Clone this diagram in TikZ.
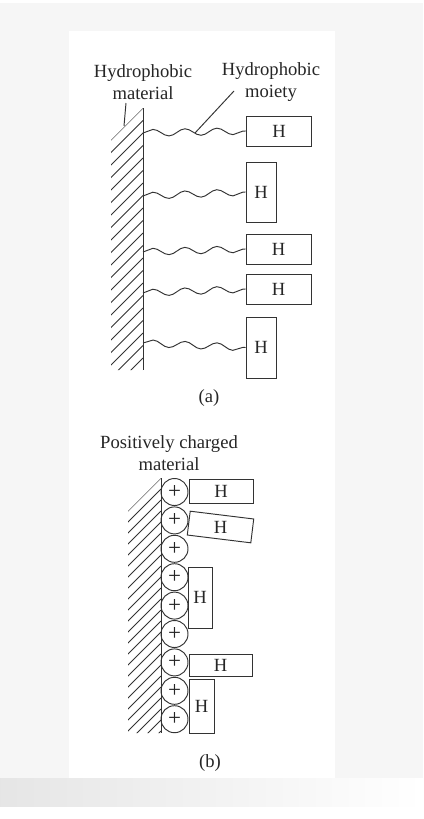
\documentclass[tikz,border=0pt]{standalone}
\usepackage{fontspec}
\setmainfont{Liberation Serif}
\usetikzlibrary{decorations.pathmorphing}

\begin{document}
\begin{tikzpicture}[x=1pt, y=-1pt, line width=0.95pt, draw=black!80,
	font=\fontsize{18.6}{21.5}\selectfont, text=black!85,
	hbox/.style={draw, inner sep=0pt, minimum width=#1},
	hbox/.default=65pt,
	wavy/.style={decorate, decoration={snake, segment length=32pt, amplitude=3.4pt}},
	charge/.style={draw, circle, inner sep=0pt, minimum size=27pt, font=\fontsize{23}{23}\selectfont},
	tag/.style={align=center, inner sep=0pt}]
\useasboundingbox (0,0) rectangle (423,819);
% page and card
\fill[gray!7] (0,3) rectangle (423,806);
\shade[left color=gray!20, right color=white] (0,778) rectangle (423,806);
\fill[white] (69,31) rectangle (335,778);

% (a) hydrophobic material
	\node[tag] (matA) at (143,82) {Hydrophobic\\material};
	\node[tag] (moiety) at (271,82) {Hydrophobic\\moiety};
	\begin{scope}
		\clip (143,108) -- (143,370) -- (111,370) -- (111,140) -- cycle;
		\foreach \y in {108,120.5,...,420}
			\draw (143,\y) -- ++(-40,40);
	\end{scope}
	\draw (143,108) -- (143,370);
	\coordinate (lA1) at (126,103);
	\coordinate (lA2) at (124,126);
	\draw (lA1) -- (lA2);
	\node[hbox, minimum height=30pt] (h1) at (279,131) {H};
	\node[hbox=30pt, minimum height=60pt] (h2) at (261,192) {H};
	\node[hbox, minimum height=30pt] (h3) at (278.5,249) {H};
	\node[hbox, minimum height=30pt] (h4) at (278.5,289) {H};
	\node[hbox=30pt, minimum height=61pt] (h5) at (261,347.5) {H};
	\coordinate (w1) at (143,133);
	\coordinate (w2) at (143,196);
	\coordinate (w3) at (143,252);
	\coordinate (w4) at (143,293);
	\coordinate (w5) at (143,343);
	\foreach \i in {1,...,5}
		\draw[wavy] (w\i) -- (h\i.west);
	\coordinate (m1) at (234,91);
	\coordinate (m2) at (195,133);
	\draw (m1) -- (m2);
	\node (capA) at (209,398) {(a)};

% (b) positively charged material
	\node[tag] (matB) at (169,453) {Positively charged\\material};
	\begin{scope}
		\clip (161,478) -- (161,733) -- (128,733) -- (128,511) -- cycle;
		\foreach \y in {478,489,...,780}
			\draw (161,\y) -- ++(-40,40);
	\end{scope}
	\draw (161,478) -- (161,733);
	\foreach \k in {0,...,8}
		\node[charge] (c\k) at (174.5,492+28.4*\k) {+};
	\node[hbox=64pt, minimum height=24pt] (b1) at (221,491) {H};
	\node[hbox=64pt, minimum height=24pt, rotate=-7] (b2) at (220.5,527) {\rotatebox{7}{H}};
	\node[hbox=24pt, minimum height=61pt] (b3) at (200,597.5) {H};
	\node[hbox=63pt, minimum height=22pt] (b4) at (220.5,665) {H};
	\node[hbox=25pt, minimum height=54pt] (b5) at (201.5,706) {H};
	\node (capB) at (210,763) {(b)};
\end{tikzpicture}
\end{document}
